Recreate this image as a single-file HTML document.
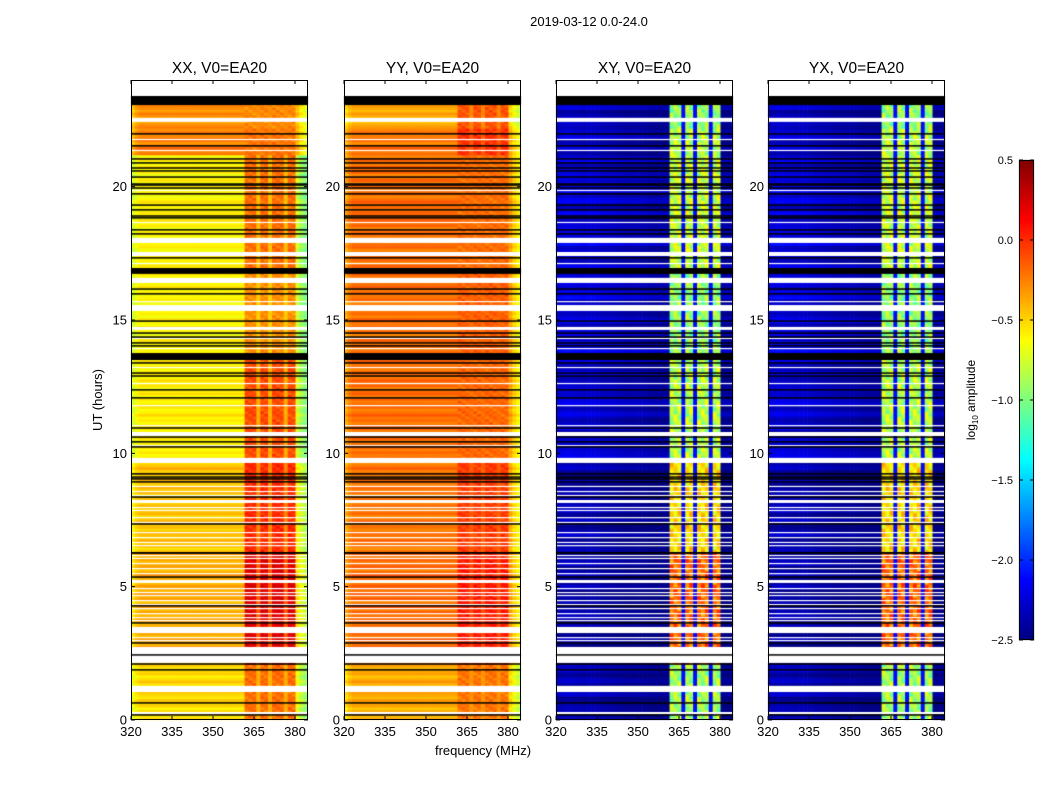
<!DOCTYPE html>
<html><head><meta charset="utf-8">
<style>
html,body{margin:0;padding:0;background:#fff;width:1050px;height:800px;overflow:hidden;font-family:"Liberation Sans","DejaVu Sans",sans-serif}
#wrap{position:relative;width:1050px;height:800px}
canvas{position:absolute;left:0;top:0}
svg{position:absolute;left:0;top:0}
text{font-family:"Liberation Sans","DejaVu Sans",sans-serif;fill:#000}
</style></head>
<body>
<div id="wrap">
<canvas id="cv" width="1050" height="800"></canvas>
<svg id="sv" width="1050" height="800"></svg>
</div>
<script>
// ---- data ----
const panelTitles = ["XX, V0=EA20","YY, V0=EA20","XY, V0=EA20","YX, V0=EA20"];
const xTicks = [320,335,350,365,380];
const yTicks = [0,5,10,15,20];
const cbTicks = [0.5,0.0,-0.5,-1.0,-1.5,-2.0,-2.5];
const cbTickLabels = ["0.5","0.0","\u22120.5","\u22121.0","\u22121.5","\u22122.0","\u22122.5"];
const segEdges = [23.06,22.2,21.2,16.95,13.6,9.75,6.25,2.1,0];
const baseXX = [-0.3,-0.25,-0.6,-0.6,-0.58,-0.45,-0.38,-0.52];
const bandXX = [-0.28,-0.22,-0.2,-0.3,-0.1,0.0,0.22,-0.2];
const baseYY = [-0.38,-0.22,-0.2,-0.2,-0.2,-0.22,-0.18,-0.38];
const bandYY = [-0.12,-0.02,-0.2,-0.15,-0.18,-0.05,0.05,-0.22];
const baseXY = [-2.4,-2.38,-2.32,-2.32,-2.35,-2.45,-2.47,-2.45];
const bandXY = [-0.95,-0.85,-0.8,-0.95,-0.85,-0.55,-0.2,-0.9];
const baseYX = [-2.4,-2.38,-2.32,-2.32,-2.35,-2.45,-2.47,-2.45];
const bandYX = [-0.95,-0.85,-0.8,-0.95,-0.85,-0.55,-0.2,-0.9];
const chanBasePar = [-0.15,-0.05,0,0,0,0,0,0,0,0,0,0,0,0,0,0,0,0,0,0,0,0,0,0,0,0,0,0,0,0,0,0,0,0,0,0,0,0,0,0,0,0,-0.15,-0.3,-0.4];
const chanBaseCross = [0.1,0.1,0.12,0.12,0.1,0.1,0.08,0.08,0.1,0.1,0.08,0.06,0.05,0.05,0.04,0.03,0.02,0,0,0,0,0,-0.02,-0.03,-0.04,-0.05,-0.05,-0.05,-0.05,0,0,0,0,0,0,0,0,0,0,0,0,0,-0.05,-0.05,-0.05];
const bandMask = [0,0,0,0,0,0,0,0,0,0,0,0,0,0,0,0,0,0,0,0,0,0,0,0,0,0,0,0,0,1,1,1,1,1,1,1,1,1,1,1,1,1,0,0,0];
const gapMask  = [0,0,0,0,0,0,0,0,0,0,0,0,0,0,0,0,0,0,0,0,0,0,0,0,0,0,0,0,0,0,0,0,1,0,0,1,0,0,0,1,0,0,0,0,0];
const rowNoise = [0.03,-0.05,0.06,0,-0.08,0.04,-0.02,0.07,-0.04,0.01,0.05,-0.06,0.02,-0.03,0.08,-0.01,-0.07,0.04,0,-0.04];
const bandNoise = [0.1,-0.15,0.2,0.05,-0.1,0.25,-0.2,0.0,0.15,-0.05,0.1,-0.25,0.05];
const whiteBands = [[24,23.44],[22.58,22.43],[21.79,21.75],[21.38,21.34],[19.88,19.84],[18.68,18.64],[18.08,17.89],[17.55,17.4],[17.14,17.1],[16.58,16.39],[15.71,15.68],[15.56,15.34],[14.74,14.63],[14.33,14.29],[13.95,13.91],[13.24,13.2],[12.64,12.6],[11.81,11.78],[11.06,11.03],[10.8,10.65],[10.31,10.28],[9.83,9.64],[8.78,8.74],[8.59,8.55],[8.44,8.4],[8.25,8.14],[7.99,7.95],[7.88,7.84],[7.61,7.58],[7.43,7.39],[7.05,7.01],[6.86,6.83],[6.68,6.64],[6.56,6.53],[6.19,6.15],[6.08,6.04],[5.89,5.85],[5.7,5.66],[5.51,5.48],[5.25,5.14],[4.95,4.91],[4.8,4.76],[4.69,4.65],[4.5,4.46],[4.35,4.31],[4.2,4.16],[4.01,3.98],[3.86,3.83],[3.75,3.71],[3.49,3.26],[3.11,3.08],[3.0,2.96],[2.74,2.14],[1.28,1.05],[0.3,0.22]];
const blackBands = [[23.4,23.06],[16.95,16.73],[13.76,13.5],[6.3,6.23]];
const blackLines = [21.98,21.53,21.04,20.89,20.7,20.59,20.36,20.1,20.06,19.95,19.73,19.31,19.13,18.9,18.83,18.38,18.23,17.33,16.16,15.98,14.96,14.51,14.36,14.14,14.03,13.39,13.01,12.9,12.38,12.08,10.95,10.61,10.43,10.24,9.23,9.11,9.04,8.93,8.36,7.35,5.36,4.28,3.64,2.89,2.44,2.1,1.88,0.64,0.19];

// ---- layout ----
const panelLeft = [131,344,556,768];
const PW = 177, PT = 80, PH = 640;
const FMIN = 320, FSTEP = 1.433, NCH = 45;
const pxPerMHz = 41/15;
function xs(p,f){return panelLeft[p] + (f-FMIN)*pxPerMHz;}
function ys(h){return PT + PH - h*(PH/24);}

function jet(v){
  let t = (v+2.5)/3; t = Math.max(0,Math.min(1,t));
  function cl(x){return Math.max(0,Math.min(1,x));}
  const r = cl(Math.min(4*t-1.5, -4*t+4.5));
  const g = cl(Math.min(4*t-0.5, -4*t+3.5));
  const b = cl(Math.min(4*t+0.5, -4*t+2.5));
  return `rgb(${Math.round(r*255)},${Math.round(g*255)},${Math.round(b*255)})`;
}
function segIndex(h){
  for(let i=0;i<segEdges.length-1;i++){ if(h<=segEdges[i] && h>segEdges[i+1]) return i; }
  return -1;
}
const bases=[baseXX,baseYY,baseXY,baseYX], bands=[bandXX,bandYY,bandXY,bandYX];

const cv=document.getElementById('cv'); const ctx=cv.getContext('2d');
const ROWH=0.1;
for(let p=0;p<4;p++){
  const cross = p>=2;
  ctx.save(); ctx.beginPath(); ctx.rect(panelLeft[p],PT,PW,PH); ctx.clip();
  ctx.fillStyle='#fff'; ctx.fillRect(panelLeft[p],PT,PW,PH);
  for(let r=0;r<240;r++){
    const h0=r*ROWH, h1=h0+ROWH, hm=h0+ROWH/2;
    const s=segIndex(hm); if(s<0) continue;
    const base=bases[p][s], band=bands[p][s];
    for(let c=0;c<NCH;c++){
      let v;
      if(!cross){
        v = base + chanBasePar[c] + rowNoise[r%rowNoise.length];
        if(bandMask[c]){
          const bv = band + bandNoise[(r+c)%bandNoise.length]*0.35;
          v = gapMask[c] ? base + 0.4*(bv-base) : bv;
        }
      } else {
        v = base + chanBaseCross[c] + rowNoise[(r*3)%rowNoise.length]*1.5;
        if(bandMask[c]){
          v = gapMask[c] ? -2.1 : band + bandNoise[(r*3+c)%bandNoise.length]*0.9;
        }
      }
      const f0=FMIN+c*FSTEP, f1=f0+FSTEP;
      ctx.fillStyle=jet(v);
      const x0=xs(p,f0), x1=xs(p,f1);
      ctx.fillRect(x0, ys(h1), x1-x0+0.6, ys(h0)-ys(h1)+0.6);
    }
  }
  ctx.fillStyle='#fff';
  whiteBands.forEach(b=>{ ctx.fillRect(panelLeft[p], ys(b[0]), PW, Math.max(1.2, ys(b[1])-ys(b[0]))); });
  ctx.fillStyle='#000';
  blackBands.forEach(b=>{ ctx.fillRect(panelLeft[p], ys(b[0]), PW, ys(b[1])-ys(b[0])); });
  blackLines.forEach(h=>{ ctx.fillRect(panelLeft[p], ys(h)-0.75, PW, 1.5); });
  ctx.restore();
}
// colorbar
const CBX=1019, CBY=160, CBW=15, CBH=480;
for(let i=0;i<CBH;i++){
  const v = 0.5 - (i+0.5)/CBH*3;
  ctx.fillStyle=jet(v); ctx.fillRect(CBX,CBY+i,CBW,1);
}

// ---- SVG overlay ----
const NS='http://www.w3.org/2000/svg';
const sv=document.getElementById('sv');
function mk(tag,attrs,parent,txt){const e=document.createElementNS(NS,tag);for(const k in attrs)e.setAttribute(k,attrs[k]);if(txt!==undefined)e.textContent=txt;(parent||sv).appendChild(e);return e;}

const sup = mk('text',{x:589,y:26,'font-size':13,'text-anchor':'middle'},sv,'2019-03-12 0.0-24.0');



for(let p=0;p<4;p++){
  const g=mk('g',{});
  
  
  const L=panelLeft[p];
  const fr=mk('rect',{x:L+0.5,y:PT+0.5,width:PW-1,height:PH-1,fill:'none',stroke:'#000','stroke-width':1},g);
  
  
  const t=mk('text',{x:L+PW/2,y:73,'font-size':15.5,'text-anchor':'middle'},g,panelTitles[p]);
  
  
  xTicks.forEach(f=>{
    const x=xs(p,f);
    mk('line',{x1:x,x2:x,y1:PT+PH,y2:PT+PH-4,stroke:'#000'},g);
    mk('line',{x1:x,x2:x,y1:PT,y2:PT+4,stroke:'#000'},g);
    const tl=mk('text',{x:x,y:PT+PH+16,'font-size':13,'text-anchor':'middle'},g,String(f));
    
    
  });
  yTicks.forEach(h=>{
    const y=ys(h);
    mk('line',{x1:L,x2:L+4,y1:y,y2:y,stroke:'#000'},g);
    mk('line',{x1:L+PW,x2:L+PW-4,y1:y,y2:y,stroke:'#000'},g);
    const tl=mk('text',{x:L-4,y:y+4.5,'font-size':13,'text-anchor':'end'},g,String(h));
    
    
  });
}
const yl=mk('text',{x:0,y:0,'font-size':13,'text-anchor':'middle',transform:'translate(102,400) rotate(-90)'},sv,'UT (hours)');


const xl=mk('text',{x:483,y:755,'font-size':13,'text-anchor':'middle'},sv,'frequency (MHz)');



const cbg=mk('g',{});


mk('rect',{x:CBX+0.5,y:CBY+0.5,width:CBW-1,height:CBH-1,fill:'none',stroke:'#000'},cbg);
cbTicks.forEach((v,i)=>{
  const y=CBY+(0.5-v)/3*CBH;
  mk('line',{x1:CBX,x2:CBX+4,y1:y,y2:y,stroke:'#000'},cbg);
  mk('line',{x1:CBX+CBW,x2:CBX+CBW-4,y1:y,y2:y,stroke:'#000'},cbg);
  const tl=mk('text',{x:1013,y:y+4,'font-size':11,'text-anchor':'end'},cbg,cbTickLabels[i]);
  
  
});
const cl=mk('text',{x:0,y:0,'font-size':12,'text-anchor':'middle',transform:'translate(975,400) rotate(-90)'},cbg);


mk('tspan',{},cl,'log');
mk('tspan',{'font-size':8,dy:3},cl,'10');
mk('tspan',{dy:-3},cl,' amplitude');
</script>
</body></html>
